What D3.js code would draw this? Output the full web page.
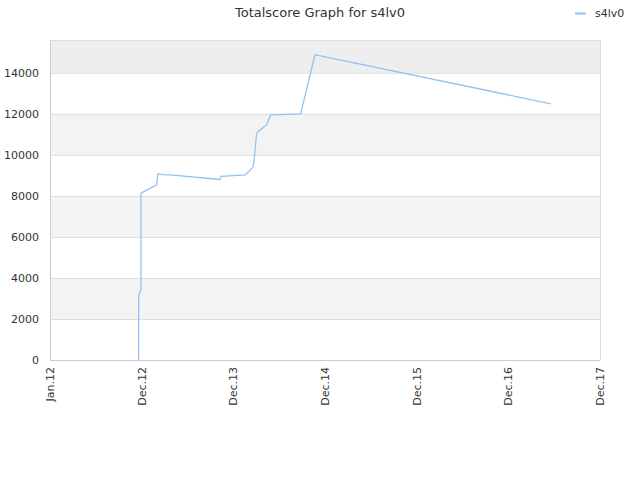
<!DOCTYPE html>
<html><head><meta charset="utf-8">
<script src="https://cdn.jsdelivr.net/npm/d3@7"></script>
<style>body{margin:0;background:#fff;} text{font-family:"DejaVu Sans",sans-serif;}</style>
</head><body>
<svg id="c" width="640" height="480"></svg>
<script>
const title = "Totalscore Graph for s4lv0";
const seriesName = "s4lv0";
const dates = ["2012-12-19","2012-12-19","2012-12-24","2012-12-28","2012-12-28","2013-03-01","2013-03-05","2013-03-27","2013-05-06","2013-11-08","2013-11-12","2014-02-15","2014-03-04","2014-03-20","2014-03-25","2014-04-02","2014-04-07","2014-05-12","2014-05-29","2014-09-25","2014-11-21","2014-12-04","2017-06-18"];
const values = [0,3170,3300,3415,8130,8540,9075,9040,9010,8800,8950,9025,9200,9430,9920,10975,11120,11460,11950,12000,14880,14845,12490];
const yTicks = [0,2000,4000,6000,8000,10000,12000,14000];
const xTickLabels = ["Jan.12","Dec.12","Dec.13","Dec.14","Dec.15","Dec.16","Dec.17"];

const svg = d3.select("#c");
const L=50,R=600,T=40,B=360;
const t0 = new Date(2012,0,1);
const day = 864e5;
const xTicks = xTickLabels.map((d,i)=>new Date(t0.getTime()+i*365*day));
const x = d3.scaleTime().domain([t0, xTicks[xTicks.length-1]]).range([L,R]);
const y = d3.scaleLinear().domain([0,15600]).range([B,T]);
const parse = d3.timeParse("%Y-%m-%d");
const data = dates.map((d,i)=>({t:parse(d),v:values[i]}));

// bands
const bandEdges = yTicks.concat([15600]);
for(let i=0;i<bandEdges.length-1;i++){
  if(i%2===1){
    svg.append("rect").attr("x",L).attr("width",R-L)
      .attr("y",y(bandEdges[i+1])).attr("height",y(bandEdges[i])-y(bandEdges[i+1]))
      .attr("fill", i===bandEdges.length-2 ? "#eeeeee" : "#f3f3f3");
  }
}
// gridlines
svg.append("g").selectAll("line").data(yTicks.concat([15600])).join("line")
  .attr("x1",L).attr("x2",R).attr("y1",d=>y(d)+0.5).attr("y2",d=>y(d)+0.5)
  .attr("stroke","#dddddd");
// axes frame
svg.append("line").attr("x1",L+0.5).attr("x2",L+0.5).attr("y1",T).attr("y2",B).attr("stroke","#cccccc");
svg.append("line").attr("x1",R+0.5).attr("x2",R+0.5).attr("y1",T).attr("y2",B).attr("stroke","#dddddd");
svg.append("line").attr("x1",L).attr("x2",R).attr("y1",B+0.5).attr("y2",B+0.5).attr("stroke","#cccccc");

// y labels
svg.append("g").selectAll("text").data(yTicks).join("text")
  .attr("x",L-11).attr("y",d=>y(d)).attr("dy","0.35em").attr("text-anchor","end")
  .attr("font-size",11).attr("fill","#333").text(d=>d);

// x labels
svg.append("g").selectAll("text").data(xTicks).join("text")
  .attr("transform",d=>`translate(${x(d)},${B+7}) rotate(-90)`)
  .attr("dy","0.35em").attr("text-anchor","end")
  .attr("font-size",11).attr("fill","#333").text((d,i)=>xTickLabels[i]);

// line
const line = d3.line().x(d=>x(d.t)).y(d=>y(d.v));
svg.append("path").datum(data).attr("d",line).attr("fill","none")
  .attr("stroke","#90c3f3").attr("stroke-width",1.3);

// title
svg.append("text").attr("x",320).attr("y",17).attr("text-anchor","middle")
  .attr("font-size",13).attr("fill","#333").text(title);
// legend
svg.append("line").attr("x1",575).attr("x2",586).attr("y1",13.5).attr("y2",13.5)
  .attr("stroke","#90c3f3").attr("stroke-width",2);
svg.append("text").attr("x",595).attr("y",13).attr("dy","0.35em")
  .attr("font-size",11).attr("fill","#333").text(seriesName);
</script>
</body></html>
